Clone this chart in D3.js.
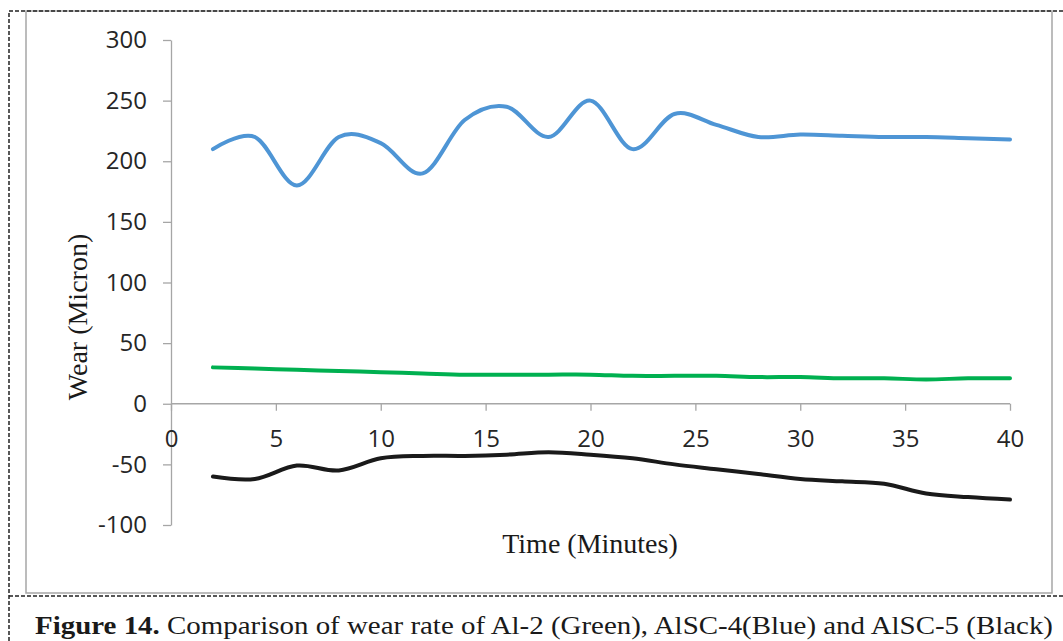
<!DOCTYPE html>
<html>
<head>
<meta charset="utf-8">
<script src="https://cdn.jsdelivr.net/npm/d3@7"></script>
<style>
  body { margin: 0; background: #fff; }
  .axis path, .axis line { stroke: #a6a6a6; stroke-width: 1.3; }
  .axis text { font-family: "Open Sans", sans-serif; font-size: 24px; fill: #262626; }
  .title { font-family: "Liberation Serif", "Times New Roman", serif; font-size: 28px; fill: #1a1a1a; }
</style>
</head>
<body>
<script>
// minutes
const time = [2, 4, 6, 8, 10, 12, 14, 16, 18, 20, 22, 24, 26, 28, 30, 32, 34, 36, 38, 40];
// wear (micron)
const al2 = [30, 29, 28, 27, 26, 25, 24, 24, 24, 24, 23, 23, 23, 22, 22, 21, 21, 20, 21, 21];
const alsc4 = [210, 220, 180, 220, 215, 190, 234, 245, 220, 250, 210, 239, 230, 220, 222, 221, 220, 220, 219, 218];
const alsc5 = [-60, -62, -51, -55, -45, -43, -43, -42, -40, -42, -45, -50, -54, -58, -62, -64, -66, -74, -77, -79];
const xTicks = [0, 5, 10, 15, 20, 25, 30, 35, 40];
const yTicks = [-100, -50, 0, 50, 100, 150, 200, 250, 300];

const series = [
	{name: 'Al-2', data: al2, color: '#00b050'},
	{name: 'AlSC-4', data: alsc4, color: '#4e95d5'},
	{name: 'AlSC-5', data: alsc5, color: '#1a1a1a'}
];

const width = 1063, height = 641;
const svg = d3.select('body').append('svg')
	.attr('width', width)
	.attr('height', height);

// frame: dashed outer box, grey chart border
const frame = svg.append('g');
frame.append('rect')
	.attr('x', 26).attr('y', 11)
	.attr('width', 1026).attr('height', 582)
	.attr('fill', 'none').attr('stroke', '#a6a6a6').attr('stroke-width', 1.5);
frame.append('path')
	.attr('d', 'M9,641 V11 H1063 M9,596 H1063')
	.attr('fill', 'none').attr('stroke', '#222').attr('stroke-width', 1.5)
	.attr('stroke-dasharray', '4,2');

const x = d3.scaleLinear().domain([0, 40]).range([171, 1010]);
const y = d3.scaleLinear().domain([-100, 300]).range([525, 40]);

svg.append('g')
	.attr('class', 'y axis')
	.attr('transform', `translate(${x(0)},0)`)
	.call(d3.axisLeft(y).tickValues(yTicks).tickSize(8).tickSizeOuter(0).tickPadding(16).tickFormat(d => String(d)));

svg.append('g')
	.attr('class', 'x axis')
	.attr('transform', `translate(0,${y(0)})`)
	.call(d3.axisBottom(x).tickValues(xTicks).tickSize(7).tickSizeOuter(0).tickPadding(19))
	.call(g => g.select('.domain').attr('d', `M${x(0)},0H${x(40)}`));

d3.selectAll('.axis text').style('font-family', '"Open Sans", sans-serif').style('font-size', '24px');

const line = d3.line()
	.x((d, i) => x(time[i]))
	.y(d => y(d))
	.curve(d3.curveCatmullRom.alpha(0));

svg.append('g').selectAll('path.line')
	.data(series)
	.enter()
	.append('path')
	.attr('class', 'line')
	.attr('d', d => line(d.data))
	.attr('fill', 'none')
	.attr('stroke', d => d.color)
	.attr('stroke-width', 4)
	.attr('stroke-linecap', 'round');

svg.append('text')
	.attr('class', 'title')
	.attr('x', 590).attr('y', 553)
	.attr('text-anchor', 'middle')
	.text('Time (Minutes)');

svg.append('text')
	.attr('class', 'title')
	.attr('transform', 'translate(87,317) rotate(-90)')
	.attr('text-anchor', 'middle')
	.text('Wear (Micron)');

const caption = svg.append('text')
	.attr('class', 'title')
	.attr('x', 35).attr('y', 634)
	.attr('textLength', 1018)
	.attr('lengthAdjust', 'spacingAndGlyphs')
	.style('font-size', '26px');
caption.append('tspan').style('font-weight', 'bold').text('Figure 14.');
caption.append('tspan').text(' Comparison of wear rate of Al-2 (Green), AlSC-4(Blue) and AlSC-5 (Black)');
</script>
</body>
</html>
